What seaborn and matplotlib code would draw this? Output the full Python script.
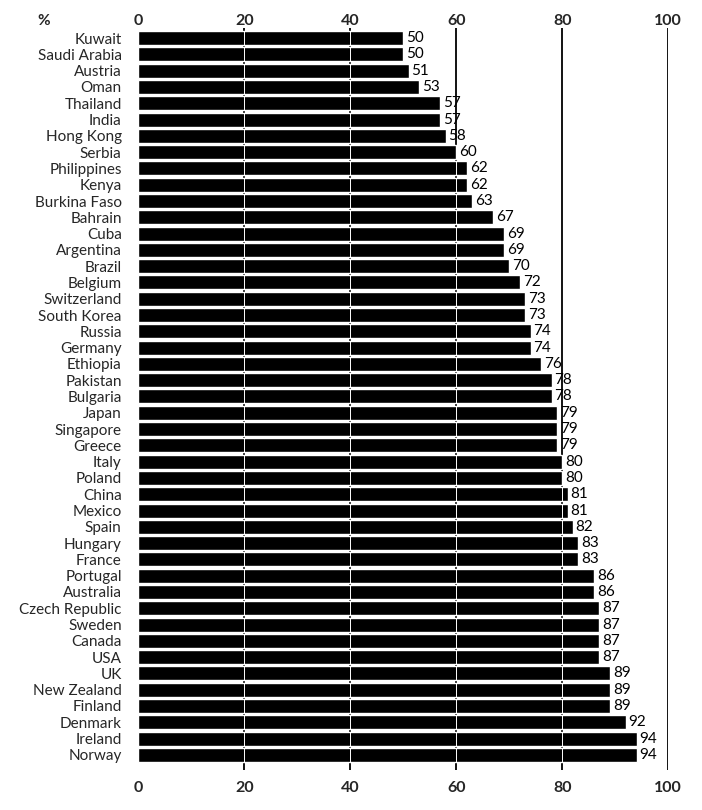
import matplotlib.pyplot as plt
import pandas as pd
import seaborn as sns

countries = [
	"Kuwait", "Saudi Arabia", "Austria", "Oman", "Thailand", "India", "Hong Kong",
	"Serbia", "Philippines", "Kenya", "Burkina Faso", "Bahrain", "Cuba", "Argentina",
	"Brazil", "Belgium", "Switzerland", "South Korea", "Russia", "Germany", "Ethiopia",
	"Pakistan", "Bulgaria", "Japan", "Singapore", "Greece", "Italy", "Poland", "China",
	"Mexico", "Spain", "Hungary", "France", "Portugal", "Australia", "Czech Republic",
	"Sweden", "Canada", "USA", "UK", "New Zealand", "Finland", "Denmark", "Ireland",
	"Norway",
]
values = [
	50, 50, 51, 53, 57, 57, 58,
	60, 62, 62, 63, 67, 69, 69,
	70, 72, 73, 73, 74, 74, 76,
	78, 78, 79, 79, 79, 80, 80, 81,
	81, 82, 83, 83, 86, 86, 87,
	87, 87, 87, 89, 89, 89, 92, 94,
	94,
]
ticks = [0, 20, 40, 60, 80, 100]

df = pd.DataFrame({"country": countries, "value": values})

sns.set_theme(style="white")
plt.rcParams["font.family"] = ["Lato", "DejaVu Sans"]

fig = plt.figure(figsize=(7.02, 8.10), dpi=100)
ax = fig.add_axes([0.197, 0.05, 0.755, 0.915])

bar_h = 0.86
sns.barplot(data=df, x="value", y="country", orient="h", color="black",
	width=bar_h, saturation=1, ax=ax, zorder=2)

# grid lines: black in the open area, thin white where they cross the bars
for g in ticks[1:]:
	ax.axvline(g, color="black", lw=1.3, zorder=1)
	for i, v in enumerate(values):
		if v > g:
			ax.vlines(g, i - bar_h / 2, i + bar_h / 2, color="white", lw=0.7, zorder=3)

for c in ax.containers:
	ax.bar_label(c, padding=2, fontsize=11, color="black")

ax.set_xlim(0, 100)
ax.set_ylim(len(values) - 0.1, -0.6)
ax.set_xticks(ticks)
ax.set_xticklabels([str(t) for t in ticks], fontsize=11.5, fontweight="bold")
ax.tick_params(axis="x", top=False, bottom=False, labelbottom=True, pad=2)
ax.tick_params(axis="y", left=False, pad=6, labelsize=11)
ax.set_xlabel("")
ax.set_ylabel("")
for s in ax.spines.values():
	s.set_visible(False)

top = ax.secondary_xaxis("top")
top.set_xticks(ticks)
top.set_xticklabels([str(t) for t in ticks], fontsize=11.5, fontweight="bold")
top.tick_params(axis="x", length=0, pad=0)
top.spines["top"].set_visible(False)

ax.text(-0.19, 1.0, "%", transform=ax.transAxes, fontsize=11, fontweight="bold",
	ha="left", va="bottom")

fig.savefig("out.png", dpi=100)
